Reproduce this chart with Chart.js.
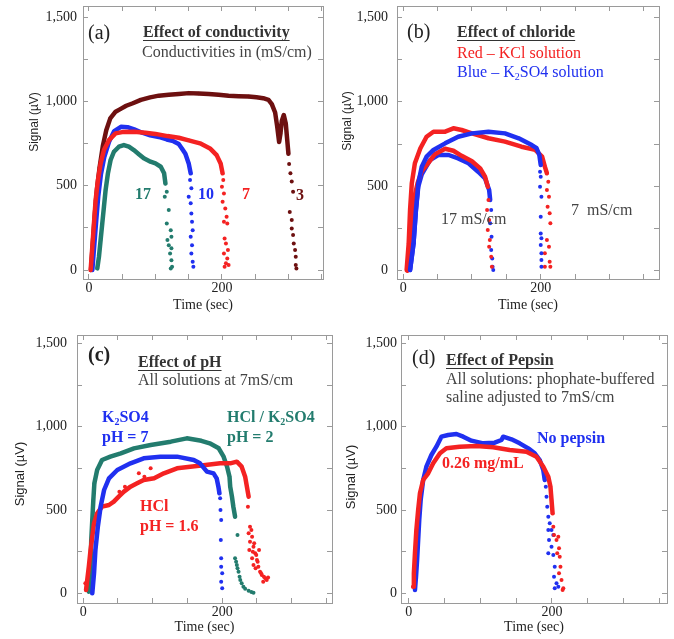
<!DOCTYPE html>
<html>
<head>
<meta charset="utf-8">
<script src="https://cdn.jsdelivr.net/npm/chart.js@4.4.0/dist/chart.umd.min.js"></script>
<style>
  html, body { margin: 0; padding: 0; background: #fff; }
  #wrap { position: relative; width: 674px; height: 639px; overflow: hidden; }
  #wrap canvas { position: absolute; }
</style>
</head>
<body>
<div id="wrap">
  <canvas id="panel-a" width="337" height="315" style="left:0;top:0"></canvas>
  <canvas id="panel-b" width="337" height="315" style="left:337px;top:0"></canvas>
  <canvas id="panel-c" width="337" height="324" style="left:0;top:315px"></canvas>
  <canvas id="panel-d" width="337" height="324" style="left:337px;top:315px"></canvas>
</div>
<script>
// axis ticks
const xTickLabels = [0, 200];
const yTickLabels = [0, 500, 1000, 1500];

// (a) effect of conductivity: 3, 7, 10, 17 mS/cm
const a3Time = [3, 6, 9, 12, 16, 21, 26, 32, 40, 47, 56, 66, 78, 92, 105, 120, 135, 150, 165, 180, 195, 210, 225, 240, 252, 262, 270, 275, 280, 283, 286, 288, 290, 293, 296, 298, 300];
const a3Signal = [0, 170, 340, 480, 610, 740, 830, 900, 940, 955, 975, 990, 1010, 1025, 1035, 1040, 1045, 1050, 1048, 1045, 1040, 1035, 1032, 1030, 1025, 1020, 1010, 985, 935, 855, 760, 810, 885, 920, 870, 780, 690];
const a3DropTime = [301, 303, 305, 307, 302, 305, 305, 307, 308, 310, 311, 311, 312];
const a3DropSignal = [630, 575, 525, 465, 345, 297, 247, 208, 158, 119, 79, 30, 10];

const a7Time = [2.5, 5, 7.5, 10, 13.5, 17.5, 22.5, 30, 40, 52, 68, 85, 100, 118, 135, 150, 167, 182, 192, 198, 201];
const a7Signal = [0, 138, 277, 415, 534, 633, 712, 771, 811, 820, 821, 815, 808, 795, 785, 770, 752, 722, 682, 633, 574];
const a7DropTime = [202, 200, 203, 201, 205, 207, 208, 203, 204, 206, 209, 203, 208, 206, 210, 204];
const a7DropSignal = [534, 495, 455, 405, 366, 316, 277, 287, 188, 158, 119, 99, 69, 40, 30, 20];

const a10Time = [5, 8, 11, 14, 18, 23, 30, 38, 48, 58, 68, 80, 92, 105, 117, 127, 135, 140, 145, 150, 153];
const a10Signal = [0, 150, 300, 440, 570, 670, 760, 825, 850, 848, 835, 815, 800, 790, 775, 765, 748, 720, 690, 633, 574];
const a10DropTime = [152, 154, 150, 153, 154, 155, 156, 153, 155, 154, 156, 157];
const a10DropSignal = [534, 485, 435, 396, 336, 287, 237, 198, 148, 99, 49, 20];

const a17Time = [12.5, 15, 17.5, 20, 22.5, 25, 28.5, 32.5, 37.5, 45, 52.5, 60, 67.5, 75, 82.5, 92.5, 100, 108, 113, 115];
const a17Signal = [10, 79, 178, 277, 376, 475, 574, 653, 702, 732, 742, 732, 712, 688, 663, 643, 633, 613, 574, 514];
const a17DropTime = [117, 114, 120, 117, 123, 124, 118, 120, 124, 122, 124, 125, 123];
const a17DropSignal = [465, 435, 356, 277, 237, 198, 178, 148, 129, 99, 59, 20, 10];

// (b) effect of chloride: KCl (red) vs K2SO4 (blue) at 7 and 17 mS/cm
const bKcl7Time = [5, 8, 10, 12.5, 17, 25, 34, 44, 61, 73, 85, 100, 124, 148, 172, 192, 202, 206, 209];
const bKcl7Signal = [4, 162, 359, 517, 636, 725, 793, 823, 823, 843, 833, 813, 784, 764, 734, 715, 675, 616, 577];
const bKcl7DropTime = [211, 209, 212, 210, 213, 214, 209, 212, 206, 213, 206, 214];
const bKcl7DropSignal = [527, 478, 438, 379, 340, 281, 182, 142, 103, 53, 24, 24];

const bSulf7Time = [10, 15, 18.5, 22, 27, 34, 44, 61, 80, 100, 124, 148, 168, 187, 194, 198, 200];
const bSulf7Signal = [4, 162, 359, 517, 616, 675, 715, 754, 793, 813, 823, 813, 784, 744, 725, 685, 626];
const bSulf7DropTime = [199, 200, 199, 201, 200, 200, 201, 200, 201, 201, 201];
const bSulf7DropSignal = [586, 557, 497, 438, 320, 221, 192, 152, 103, 63, 24];

const bKcl17Time = [6, 9, 12, 16, 21, 27, 37, 46, 61, 73, 85, 100, 112, 119, 123];
const bKcl17Signal = [0, 150, 300, 430, 520, 590, 640, 690, 722, 710, 680, 648, 606, 557, 497];
const bKcl17DropTime = [124, 122, 125, 123, 126, 125, 128, 129];
const bKcl17DropSignal = [419, 359, 300, 241, 182, 142, 83, 24];

const bSulf17Time = [10, 15, 18.5, 22, 27, 32, 39, 51, 66, 80, 95, 109, 119, 125, 126.5];
const bSulf17Signal = [4, 162, 359, 500, 570, 606, 655, 685, 685, 665, 636, 586, 547, 478, 419];
const bSulf17DropTime = [128, 126.5, 128.5, 128, 129.5, 130, 131];
const bSulf17DropSignal = [359, 281, 201, 123, 73, 24, 4];

// (c) effect of pH, all at 7 mS/cm
const cMixTime = [8, 10.5, 11.5, 13, 14.5, 16, 20, 27, 39, 54, 73, 97, 126, 149, 170, 182, 195, 202, 207, 210.5, 211.5, 214, 216, 218.5];
const cMixSignal = [10, 160, 320, 440, 560, 660, 740, 800, 820, 840, 870, 890, 910, 930, 915, 900, 870, 820, 760, 700, 640, 580, 520, 460];
const cMixDropTime = [222, 218.5, 220, 221, 222, 223.5, 225, 226, 228, 230.5, 233, 238, 242, 245];
const cMixDropSignal = [350, 210, 190, 170, 150, 130, 100, 80, 60, 40, 28, 16, 8, 4];

const cSulfTime = [13, 15.5, 17.5, 21, 25, 30, 37, 49, 68, 87, 111, 135, 159, 168, 178, 187.5, 192, 194.5, 196];
const cSulfSignal = [0, 120, 260, 400, 520, 620, 690, 740, 780, 810, 820, 820, 800, 780, 730, 720, 690, 640, 600];
const cSulfDropTime = [197, 197.5, 198.5, 198, 198.5, 198.5, 200, 198.5, 200];
const cSulfDropSignal = [570, 500, 440, 320, 210, 160, 120, 70, 30];

const cHclTime = [4, 8, 10.5, 13, 15.5, 20, 27, 37, 44, 51, 58.5, 68, 77.5, 87, 102, 116, 135, 154, 176, 197, 211.5, 221, 228, 233, 235.5, 238];
const cHclSignal = [20, 160, 260, 340, 420, 480, 520, 530, 550, 580, 610, 640, 660, 680, 690, 720, 750, 760, 770, 780, 780, 790, 760, 700, 640, 580];
const cHclDropTime = [3, 52, 60, 80, 97, 88, 237, 240, 238, 243, 240, 245, 239, 247.5, 243, 250, 245, 252, 254.5, 257, 262, 264, 259, 242, 246, 249, 251, 248, 256, 260, 266, 253, 244];
const cHclDropSignal = [60, 610, 640, 720, 750, 700, 520, 400, 360, 340, 310, 280, 260, 240, 210, 200, 170, 160, 130, 110, 90, 80, 70, 380, 300, 230, 190, 150, 120, 100, 95, 260, 250];

// (d) effect of pepsin
const dNoneTime = [8.5, 10, 11.5, 13, 14.5, 16.5, 20, 24.5, 31.5, 38.5, 45.5, 55, 66.5, 76, 87.5, 104, 120, 129.5, 132, 143.5, 155, 167, 176, 183, 188, 190];
const dNoneSignal = [20, 100, 200, 320, 440, 560, 680, 760, 830, 880, 940, 950, 956, 940, 916, 900, 904, 920, 940, 924, 900, 870, 840, 800, 740, 680];
const dNoneDropTime = [191.5, 192.5, 193.5, 195, 197, 195, 199.5, 202, 196, 199.5, 195, 202, 204, 203, 206.5, 209, 204];
const dNoneDropSignal = [640, 580, 520, 460, 420, 380, 380, 350, 320, 280, 240, 230, 160, 100, 60, 40, 30];

const dPepsinTime = [6, 7, 8.5, 10.5, 13, 15.5, 20, 27, 34, 43.5, 52.5, 71, 94.5, 118, 141, 164.5, 178.5, 188, 195, 198, 199.5, 201];
const dPepsinSignal = [40, 120, 240, 380, 500, 600, 680, 720, 780, 840, 870, 880, 884, 876, 860, 850, 820, 760, 700, 640, 560, 480];
const dPepsinDropTime = [202, 203, 206.5, 209, 210, 207.5, 211, 212, 210, 213.5, 216, 215];
const dPepsinDropSignal = [400, 350, 320, 340, 270, 240, 220, 160, 120, 80, 30, 20];

const TEAL = '#237c6e';
const BLUE = '#2030f0';
const RED = '#f42222';
const MAROON = '#6d1010';
const FRAME = '#9a9a9a';
const SERIF = '"Liberation Serif", "Times New Roman", serif';
const SANS = '"Liberation Sans", Arial, sans-serif';

function points(t, v) {
  return t.map((x, i) => ({ x: x, y: v[i] }));
}

// dense part of a run: a thick band of dots
function trace(t, v, color) {
  return {
    data: points(t, v),
    showLine: true,
    borderColor: color,
    borderWidth: 4.5,
    borderJoinStyle: 'round',
    borderCapStyle: 'round',
    backgroundColor: color,
    pointRadius: 1.7,
    pointBorderWidth: 0
  };
}

// sparse dots where the signal collapses
function drop(t, v, color) {
  return {
    data: points(t, v),
    showLine: false,
    backgroundColor: color,
    pointRadius: 2,
    pointBorderWidth: 0
  };
}

function note(text, x, y, opts) {
  return Object.assign({ text: text, x: x, y: y, size: 16, weight: 'normal', color: '#444', family: SERIF }, opts || {});
}

function yTitle(x, y, size) {
  return note('Signal (\u00b5V)', x, y, { size: size, color: '#222', family: SANS, rotate: true });
}

// "K_2SO4" -> K with subscript 2
function drawNote(ctx, n) {
  ctx.save();
  ctx.fillStyle = n.color;
  ctx.textBaseline = 'middle';
  if (n.rotate) {
    ctx.translate(n.x, n.y);
    ctx.rotate(-Math.PI / 2);
    ctx.textAlign = 'center';
    ctx.font = `${n.weight} ${n.size}px ${n.family}`;
    ctx.fillText(n.text, 0, 0);
    ctx.restore();
    return;
  }

  const parts = [];
  const re = /_(.)/g;
  let last = 0, m;
  while ((m = re.exec(n.text)) !== null) {
    if (m.index > last) parts.push({ s: n.text.slice(last, m.index), sub: false });
    parts.push({ s: m[1], sub: true });
    last = re.lastIndex;
  }
  if (last < n.text.length) parts.push({ s: n.text.slice(last), sub: false });

  ctx.textAlign = 'left';
  let x = n.x;
  parts.forEach((p) => {
    const size = p.sub ? Math.round(n.size * 0.65) : n.size;
    ctx.font = `${n.weight} ${size}px ${n.family}`;
    ctx.fillText(p.s, x, n.y + (p.sub ? n.size * 0.28 : 0));
    x += ctx.measureText(p.s).width;
  });
  if (n.underline) {
    const uy = Math.round(n.y + n.size * 0.45) + 0.5;
    ctx.strokeStyle = n.color;
    ctx.lineWidth = 1;
    ctx.beginPath();
    ctx.moveTo(n.x, uy);
    ctx.lineTo(x, uy);
    ctx.stroke();
  }
  ctx.restore();
}

// pin an axis box to a fixed size and drop the label overflow padding
function pinBox(size, horizontal) {
  return (s) => {
    if (horizontal) s.height = size; else s.width = size;
    s.paddingTop = 0;
    s.paddingBottom = 0;
    s.paddingLeft = 0;
    s.paddingRight = 0;
  };
}

function makePanel(id, cfg) {
  const canvas = document.getElementById(id);
  const w = canvas.width, h = canvas.height;
  const area = cfg.area;
  const tickFont = { family: SERIF, size: 14 };
  const grid = { drawOnChartArea: false, tickLength: -5, color: FRAME, tickColor: FRAME };
  const border = { color: FRAME, width: 1 };

  const notesPlugin = {
    id: 'notes-' + id,
    afterDraw(chart) {
      cfg.notes.forEach((n) => drawNote(chart.ctx, n));
    }
  };

  return new Chart(canvas, {
    type: 'scatter',
    data: { datasets: cfg.datasets },
    options: {
      responsive: false,
      animation: false,
      events: [],
      layout: { padding: 0, autoPadding: false },
      plugins: { legend: { display: false }, tooltip: { enabled: false } },
      scales: {
        x: {
          type: 'linear', position: 'bottom', min: cfg.xMin, max: cfg.xMax,
          afterFit: pinBox(h - area.bottom, true),
          grid: grid, border: border,
          ticks: {
            stepSize: 50, includeBounds: false, autoSkip: false, maxRotation: 0,
            padding: 6, font: tickFont, color: '#222',
            callback: (v) => (xTickLabels.includes(v) ? String(v) : '')
          },
          title: {
            display: true, text: 'Time (sec)', color: '#222',
            font: { family: SERIF, size: 14 }, padding: { top: 0, bottom: cfg.xTitlePad }
          }
        },
        x2: {
          type: 'linear', position: 'top', min: cfg.xMin, max: cfg.xMax,
          afterFit: pinBox(area.top, true),
          grid: grid, border: border,
          ticks: { stepSize: 50, includeBounds: false, autoSkip: false, maxRotation: 0, padding: 0, callback: () => '' }
        },
        y: {
          type: 'linear', position: 'left', min: cfg.yMin, max: cfg.yMax,
          afterFit: pinBox(area.left, false),
          grid: grid, border: border,
          ticks: {
            stepSize: 250, includeBounds: false, autoSkip: false,
            padding: cfg.yTickPad, font: tickFont, color: '#222',
            callback: (v) => (yTickLabels.includes(v) ? v.toLocaleString('en-US') : '')
          }
        },
        y2: {
          type: 'linear', position: 'right', min: cfg.yMin, max: cfg.yMax,
          afterFit: pinBox(w - area.right, false),
          grid: grid, border: border,
          ticks: { stepSize: 250, includeBounds: false, autoSkip: false, padding: 0, callback: () => '' }
        }
      }
    },
    plugins: [notesPlugin]
  });
}

makePanel('panel-a', {
  area: { left: 83, right: 323, top: 6, bottom: 279 },
  xMin: -9, xMax: 352, yMin: -53, yMax: 1567,
  xTitlePad: 1, yTickPad: 11,
  datasets: [
    trace(a17Time, a17Signal, TEAL), drop(a17DropTime, a17DropSignal, TEAL),
    trace(a7Time, a7Signal, RED), drop(a7DropTime, a7DropSignal, RED),
    trace(a10Time, a10Signal, BLUE), drop(a10DropTime, a10DropSignal, BLUE),
    trace(a3Time, a3Signal, MAROON), drop(a3DropTime, a3DropSignal, MAROON)
  ],
  notes: [
    yTitle(35, 122, 12),
    note('(a)', 88, 34, { size: 20, color: '#222' }),
    note('Effect of conductivity', 143, 33, { weight: 'bold', color: '#333', underline: true }),
    note('Conductivities in (mS/cm)', 142, 53),
    note('17', 135, 195, { weight: 'bold', color: TEAL }),
    note('10', 198, 195, { weight: 'bold', color: BLUE }),
    note('7', 242, 195, { weight: 'bold', color: RED }),
    note('3', 296, 196, { weight: 'bold', color: MAROON })
  ]
});

makePanel('panel-b', {
  area: { left: 60, right: 322, top: 6, bottom: 279 },
  xMin: -9, xMax: 372, yMin: -49, yMax: 1567,
  xTitlePad: 1, yTickPad: 14,
  datasets: [
    trace(bSulf7Time, bSulf7Signal, BLUE), drop(bSulf7DropTime, bSulf7DropSignal, BLUE),
    trace(bKcl17Time, bKcl17Signal, RED), drop(bKcl17DropTime, bKcl17DropSignal, RED),
    trace(bSulf17Time, bSulf17Signal, BLUE), drop(bSulf17DropTime, bSulf17DropSignal, BLUE),
    trace(bKcl7Time, bKcl7Signal, RED), drop(bKcl7DropTime, bKcl7DropSignal, RED)
  ],
  notes: [
    yTitle(11, 121, 12),
    note('(b)', 70, 33, { size: 20, color: '#222' }),
    note('Effect of chloride', 120, 33, { weight: 'bold', color: '#333', underline: true }),
    note('Red \u2013 KCl solution', 120, 54, { color: RED }),
    note('Blue \u2013 K_2SO4 solution', 120, 73, { color: BLUE }),
    note('17 mS/cm', 104, 220),
    note('7  mS/cm', 234, 211)
  ]
});

makePanel('panel-c', {
  area: { left: 77, right: 332, top: 20, bottom: 288 },
  xMin: -9, xMax: 358, yMin: -58, yMax: 1550,
  xTitlePad: 3, yTickPad: 15,
  datasets: [
    trace(cSulfTime, cSulfSignal, BLUE), drop(cSulfDropTime, cSulfDropSignal, BLUE),
    trace(cHclTime, cHclSignal, RED), drop(cHclDropTime, cHclDropSignal, RED),
    trace(cMixTime, cMixSignal, TEAL), drop(cMixDropTime, cMixDropSignal, TEAL)
  ],
  notes: [
    yTitle(20, 159, 13),
    note('(c)', 88, 41, { size: 20, weight: 'bold', color: '#222' }),
    note('Effect of pH', 138, 48, { weight: 'bold', color: '#333', underline: true }),
    note('All solutions at 7mS/cm', 138, 66),
    note('K_2SO4', 102, 103, { weight: 'bold', color: BLUE }),
    note('pH = 7', 102, 123, { weight: 'bold', color: BLUE }),
    note('HCl / K_2SO4', 227, 103, { weight: 'bold', color: TEAL }),
    note('pH = 2', 227, 123, { weight: 'bold', color: TEAL }),
    note('HCl', 140, 192, { weight: 'bold', color: RED }),
    note('pH = 1.6', 140, 212, { weight: 'bold', color: RED })
  ]
});

makePanel('panel-d', {
  area: { left: 64, right: 330, top: 20, bottom: 288 },
  xMin: -11, xMax: 361, yMin: -58, yMax: 1550,
  xTitlePad: 3, yTickPad: 9,
  datasets: [
    trace(dPepsinTime, dPepsinSignal, RED), drop(dPepsinDropTime, dPepsinDropSignal, RED),
    trace(dNoneTime, dNoneSignal, BLUE), drop(dNoneDropTime, dNoneDropSignal, BLUE)
  ],
  notes: [
    yTitle(14, 162, 13),
    note('(d)', 75, 44, { size: 20, color: '#222' }),
    note('Effect of Pepsin', 109, 46, { weight: 'bold', color: '#333', underline: true }),
    note('All solutions: phophate-buffered', 109, 65),
    note('saline adjusted to 7mS/cm', 109, 83),
    note('No pepsin', 200, 124, { weight: 'bold', color: BLUE }),
    note('0.26 mg/mL', 105, 149, { weight: 'bold', color: RED })
  ]
});
</script>
</body>
</html>
